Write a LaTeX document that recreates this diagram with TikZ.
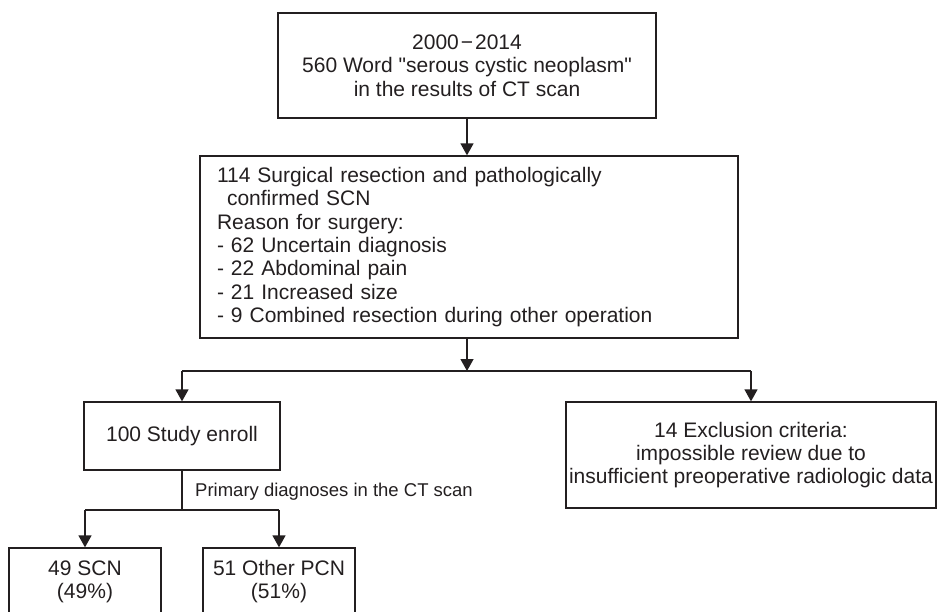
\documentclass[tikz,border=0pt]{standalone}
\usepackage{fontspec}
\setmainfont{Liberation Sans}[Ligatures=TeXOff]
\usetikzlibrary{arrows.meta}
\definecolor{ink}{HTML}{231F20}
\begin{document}
\begin{tikzpicture}[x=1pt,y=-1pt,
  box/.style={draw=ink, line width=1.3pt, text=ink, inner sep=0pt,
    font=\fontsize{21}{23.3}\selectfont, align=center},
  conn/.style={draw=ink, line width=1.3pt},
  arr/.style={conn, -{Triangle[width=13pt,length=12pt]}},
  lbl/.style={text=ink, inner sep=0pt, font=\fontsize{18.5}{21}\selectfont}
]
\useasboundingbox (0,0) rectangle (937,611);
\clip (0,0) rectangle (937,611);

\node[box, minimum width=378pt, minimum height=105pt] (top) at (467,65.5)
  {2000\hspace{2pt}−\hspace{2pt}2014\\560 Word "serous cystic neoplasm"\\in the results of CT scan};

\node[box, minimum width=538pt, minimum height=182pt, text width=504pt, align=left] (surg) at (469,247)
  {114 Surgical resection and pathologically\\
   \hspace*{10pt}confirmed SCN\\
   Reason for surgery:\\
   - 62 Uncertain diagnosis\\
   - 22 Abdominal pain\\
   - 21 Increased size\\
   - 9 Combined resection during other operation};

\node[box, minimum width=196pt, minimum height=68pt] (enroll) at (182,436) {100 Study enroll};

\node[box, minimum width=370pt, minimum height=106pt] (excl) at (751,455)
  {14 Exclusion criteria:\\impossible review due to\\insufficient preoperative radiologic data};

\node[box, minimum width=152pt, minimum height=67pt] (scn) at (85,581.5) {49 SCN\\(49\%)};
\node[box, minimum width=152pt, minimum height=67pt] (pcn) at (279,581.5) {51 Other PCN\\(51\%)};

\coordinate (j1) at (467,371);
\coordinate (j2) at (182,510);

\draw[arr] (top.south) -- (top.south |- surg.north);
\draw[arr] (surg.south -| j1) -- (j1);
\draw[conn] (enroll.north |- j1) -- (excl.north |- j1);
\draw[arr] (enroll.north |- j1) -- (enroll.north);
\draw[arr] (excl.north |- j1) -- (excl.north);

\draw[conn] (enroll.south) -- (j2);
\draw[conn] (scn.north |- j2) -- (pcn.north |- j2);
\draw[arr] (scn.north |- j2) -- (scn.north);
\draw[arr] (pcn.north |- j2) -- (pcn.north);

\node[lbl, anchor=west] (lab) at (195,492) {Primary diagnoses in the CT scan};
\end{tikzpicture}
\end{document}
